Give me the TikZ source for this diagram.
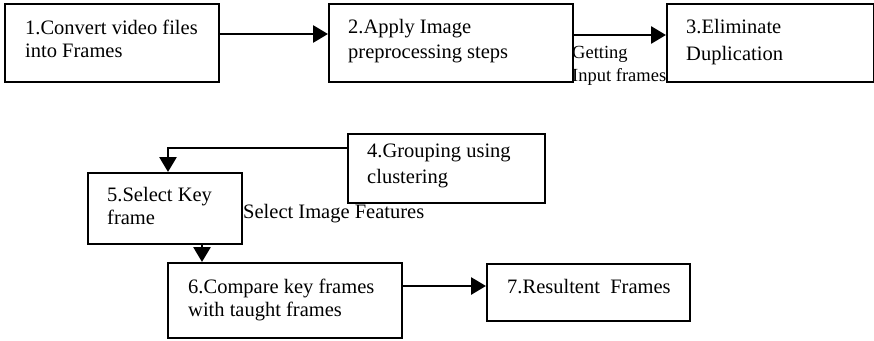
\documentclass[tikz,border=0pt]{standalone}
\usepackage{fontspec}
\setmainfont{Liberation Serif}
\usetikzlibrary{arrows.meta}
\begin{document}
\begin{tikzpicture}[x=1pt,y=-1pt,
  box/.style={draw, line width=1.7pt, rectangle, inner sep=0pt, anchor=north west},
  txt/.style={anchor=base west, inner sep=0pt, font=\fontsize{20.5}{24}\selectfont},
  small/.style={anchor=base west, inner sep=0pt, font=\fontsize{18.5}{22}\selectfont},
  arr/.style={line width=2.8pt, -{Triangle[length=15pt,width=17pt]}}]
\useasboundingbox (0,0) rectangle (874,340);
% boxes
\node[box, minimum width=214pt, minimum height=78pt] (b1) at (4,3) {};
\node[box, minimum width=244pt, minimum height=78pt] (b2) at (328,3) {};
\node[box, minimum width=207pt, minimum height=78pt] (b3) at (666,3) {};
\node[box, minimum width=197pt, minimum height=69pt] (b4) at (347,133) {};
\node[box, minimum width=154pt, minimum height=71pt] (b5) at (87,172) {};
\node[box, minimum width=234pt, minimum height=75pt] (b6) at (167,262) {};
\node[box, minimum width=203pt, minimum height=57pt] (b7) at (486,263) {};
% texts
\node[txt] (t1a) at (25,34) {1.Convert video files};
\node[txt] (t1b) at (25,57) {into Frames};
\node[txt] (t2a) at (348,33) {2.Apply Image};
\node[txt] (t2b) at (348,58) {preprocessing steps};
\node[txt] (t3a) at (686,33) {3.Eliminate};
\node[txt] (t3b) at (686,60) {Duplication};
\node[txt] (t4a) at (367,157) {4.Grouping using};
\node[txt] (t4b) at (367,183) {clustering};
\node[txt] (t5a) at (107,201) {5.Select Key};
\node[txt] (t5b) at (107,224) {frame};
\node[txt] (t6a) at (188,293) {6.Compare key frames};
\node[txt] (t6b) at (188,316) {with taught frames};
\node[txt] (t7) at (507,293) {7.Resultent\ \ Frames};
\node[txt] (l1) at (243,218) {Select Image Features};
\node[small] (l2a) at (572,58) {Getting};
\node[small] (l2b) at (572,81) {Input frames};
% connectors
\coordinate (c1) at (0,34);
\coordinate (c2) at (0,35);
\coordinate (c4) at (0,148);
\coordinate (c5) at (168,0);
\coordinate (c6) at (202,0);
\coordinate (c7) at (0,286);
\draw[arr] (b1.east |- c1) -- (b2.west |- c1);
\draw[arr] (b2.east |- c2) -- (b3.west |- c2);
\draw[arr] (b4.west |- c4) -- (c5 |- c4) -- (c5 |- b5.north);
\draw[arr] (c6 |- b5.south) -- (c6 |- b6.north);
\draw[arr] (b6.east |- c7) -- (b7.west |- c7);
\end{tikzpicture}
\end{document}
